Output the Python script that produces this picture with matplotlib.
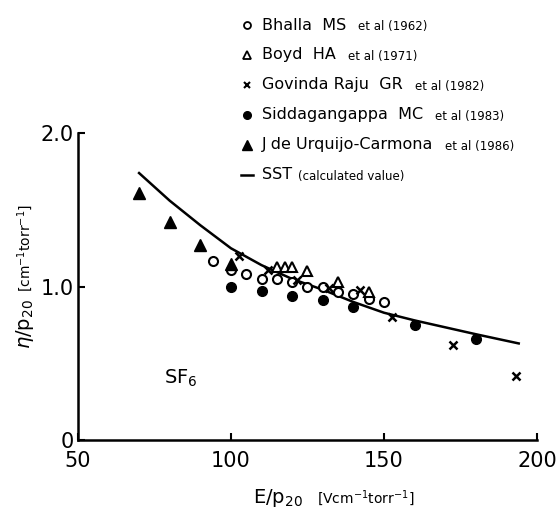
import numpy as np
import matplotlib
matplotlib.use('Agg')
import matplotlib.pyplot as plt

plt.rcParams['font.family'] = ['DejaVu Sans']

# data
bhalla_x = [94, 100, 105, 110, 115, 120, 125, 130, 135, 140, 145, 150]
bhalla_y = [1.17, 1.11, 1.08, 1.05, 1.05, 1.03, 1.0, 1.0, 0.965, 0.955, 0.92, 0.90]

boyd_x = [115, 117.5, 120, 125, 135, 145]
boyd_y = [1.13, 1.125, 1.125, 1.10, 1.03, 0.965]

raju_x = [102.5, 112, 121.5, 132, 142, 152.5, 172.5, 193]
raju_y = [1.20, 1.11, 1.04, 0.99, 0.975, 0.80, 0.62, 0.42]

sidda_x = [100, 110, 120, 130, 140, 160, 180]
sidda_y = [1.0, 0.97, 0.94, 0.91, 0.87, 0.75, 0.66]

urq_x = [70, 80, 90, 100]
urq_y = [1.61, 1.42, 1.27, 1.15]

sst_x = [70, 80, 90, 100, 110, 120, 130, 140, 150, 160, 170, 180, 194]
sst_y = [1.74, 1.56, 1.40, 1.25, 1.14, 1.05, 0.98, 0.90, 0.83, 0.78, 0.735, 0.69, 0.63]

names = ['Bhalla  MS', 'Boyd  HA', 'Govinda Raju  GR', 'Siddagangappa  MC',
         'J de Urquijo-Carmona', 'SST']
refs = ['et al (1962)', 'et al (1971)', 'et al (1982)', 'et al (1983)',
        'et al (1986)', '(calculated value)']

fig = plt.figure(figsize=(5.56, 5.16), dpi=100)
ax = fig.add_axes([0.140, 0.147, 0.826, 0.595])

ax.plot(sst_x, sst_y, color='black', lw=1.8, zorder=1)
ax.plot(bhalla_x, bhalla_y, 'o', ms=6.5, mfc='white', mec='black', mew=1.5, ls='none', zorder=3)
ax.plot(boyd_x, boyd_y, '^', ms=7.5, mfc='white', mec='black', mew=1.5, ls='none', zorder=3)
ax.plot(raju_x, raju_y, 'x', ms=5.5, color='black', mew=1.8, ls='none', zorder=4)
ax.plot(sidda_x, sidda_y, 'o', ms=7, color='black', ls='none', zorder=3)
ax.plot(urq_x, urq_y, '^', ms=8, color='black', ls='none', zorder=4)

ax.set_xlim(50, 200)
ax.set_ylim(0, 2.0)
ax.spines['top'].set_visible(False)
ax.spines['right'].set_visible(False)
ax.spines['left'].set_linewidth(1.8)
ax.spines['bottom'].set_linewidth(1.8)
ax.set_xticks([50, 100, 150, 200])
ax.set_xticklabels(['50', '100', '150', '200'])
ax.set_yticks([0, 1.0, 2.0])
ax.set_yticklabels(['0', '1.0', '2.0'])
ax.tick_params(direction='in', length=5, width=1.5, labelsize=15)
ax.tick_params(axis='x', pad=8)
ax.tick_params(axis='y', pad=3)

ax.text(78, 0.40, 'SF$_6$', fontsize=14, ha='left', va='center')

fig.text(0.545, 0.035, 'E/p$_{20}$', fontsize=14, ha='right', va='center')
fig.text(0.57, 0.035, '[Vcm$^{-1}$torr$^{-1}$]', fontsize=10, ha='left', va='center')
fig.text(0.045, 0.42, '$\\eta$/p$_{20}$', fontsize=14, ha='center', va='top', rotation=90)
fig.text(0.045, 0.435, '[cm$^{-1}$torr$^{-1}$]', fontsize=10, ha='center', va='bottom', rotation=90)

# hand made legend
W, H = 556.0, 516.0
fig.canvas.draw()
r = fig.canvas.get_renderer()
for i in range(6):
    yp = 25 + 30 * i
    fy = 1 - yp / H
    mx = 247 / W
    if i == 0:
        fig.lines.append(plt.Line2D([mx], [fy], marker='o', ms=5, mfc='white', mec='black',
                                    mew=1.3, transform=fig.transFigure))
    elif i == 1:
        fig.lines.append(plt.Line2D([mx], [fy], marker='^', ms=6, mfc='white', mec='black',
                                    mew=1.3, transform=fig.transFigure))
    elif i == 2:
        fig.lines.append(plt.Line2D([mx], [fy], marker='x', ms=4.5, color='black',
                                    mew=1.5, transform=fig.transFigure))
    elif i == 3:
        fig.lines.append(plt.Line2D([mx], [fy], marker='o', ms=5.5, color='black',
                                    transform=fig.transFigure))
    elif i == 4:
        fig.lines.append(plt.Line2D([mx], [fy], marker='^', ms=6.5, color='black',
                                    transform=fig.transFigure))
    else:
        fig.lines.append(plt.Line2D([241 / W, 253 / W], [fy, fy], color='black', lw=1.8,
                                    transform=fig.transFigure))
    t = fig.text(262 / W, fy, names[i], fontsize=11.5, ha='left', va='center')
    bb = t.get_window_extent(renderer=r)
    gap = 6 if i == 5 else 12
    fig.text((bb.x1 + gap) / W, fy - 0.002, refs[i], fontsize=8.5, ha='left', va='center')

fig.savefig('out.png', dpi=100)
